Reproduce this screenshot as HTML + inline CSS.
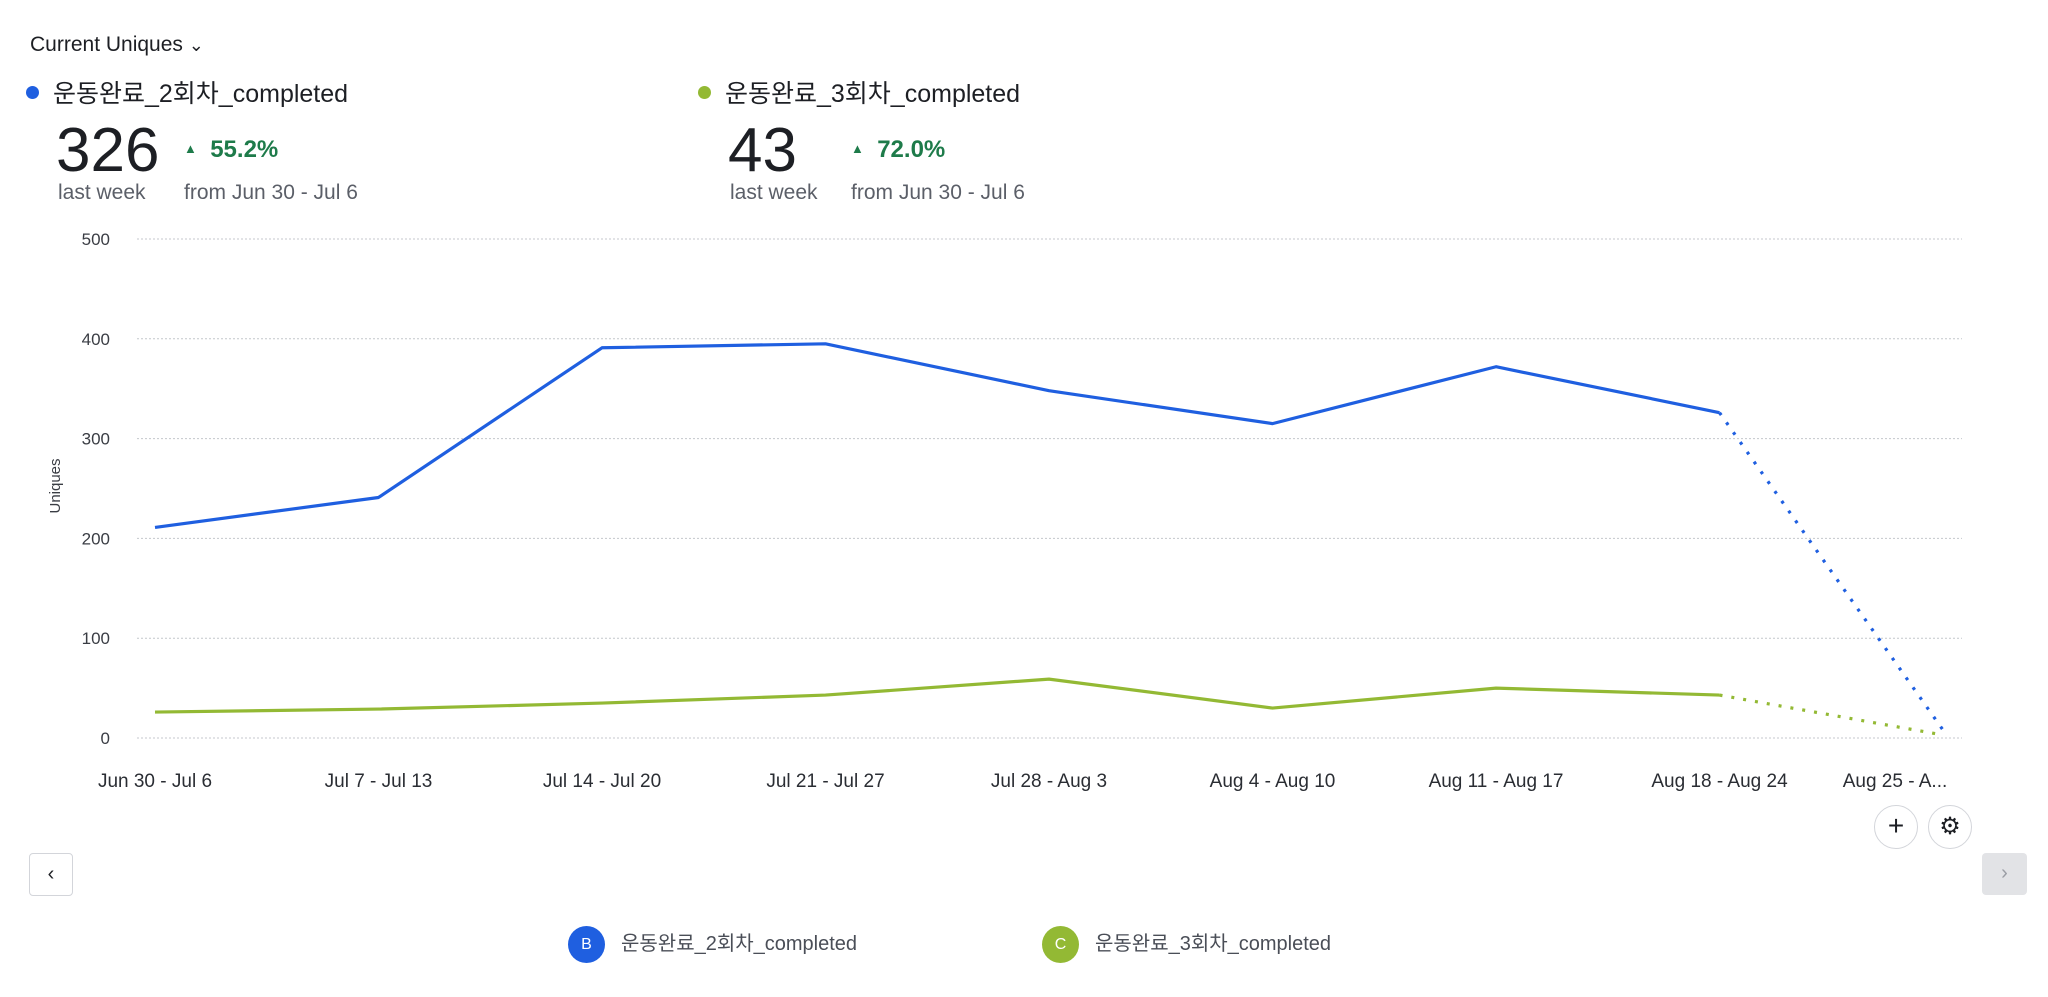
<!DOCTYPE html>
<html><head><meta charset="utf-8">
<style>
body{margin:0;width:2048px;height:997px;background:#fff;font-family:"Liberation Sans","Noto Sans CJK KR",sans-serif;color:#1d1f24;overflow:hidden;position:relative}
.a{position:absolute;white-space:nowrap}
</style></head><body>
<div class="a" style="left:30px;top:33px;font-size:21px">Current Uniques <span style="font-size:18px">&#8964;</span></div>

<div class="a" style="left:26px;top:74px;font-size:25px"><span style="display:inline-block;width:13px;height:13px;border-radius:50%;background:#1f5fe0;margin-right:14px;vertical-align:3px"></span>운동완료_2회차_completed</div>
<div class="a" style="left:56px;top:118px;font-size:62px;line-height:66px">326</div>
<div class="a" style="left:184px;top:136px;font-size:24px;font-weight:bold;color:#1e7b4a"><span style="font-size:13px;vertical-align:4px">&#9650;</span>&nbsp; 55.2%</div>
<div class="a" style="left:58px;top:181px;font-size:21px;color:#5b5f68">last week</div>
<div class="a" style="left:184px;top:181px;font-size:21px;color:#5b5f68">from Jun 30 - Jul 6</div>

<div class="a" style="left:698px;top:74px;font-size:25px"><span style="display:inline-block;width:13px;height:13px;border-radius:50%;background:#93b934;margin-right:14px;vertical-align:3px"></span>운동완료_3회차_completed</div>
<div class="a" style="left:728px;top:118px;font-size:62px;line-height:66px">43</div>
<div class="a" style="left:851px;top:136px;font-size:24px;font-weight:bold;color:#1e7b4a"><span style="font-size:13px;vertical-align:4px">&#9650;</span>&nbsp; 72.0%</div>
<div class="a" style="left:730px;top:181px;font-size:21px;color:#5b5f68">last week</div>
<div class="a" style="left:851px;top:181px;font-size:21px;color:#5b5f68">from Jun 30 - Jul 6</div>

<svg id="chart" class="a" style="left:0;top:0" width="2048" height="997"></svg>

<div class="a" style="left:1874px;top:805px;width:42px;height:42px;border:1px solid #d3d5da;border-radius:50%;text-align:center;line-height:40px;font-size:28px">+</div>
<div class="a" style="left:1928px;top:805px;width:42px;height:42px;border:1px solid #d3d5da;border-radius:50%;text-align:center;line-height:42px;font-size:24px">&#9881;</div>
<div class="a" style="left:29px;top:853px;width:42px;height:41px;border:1px solid #d3d5da;border-radius:4px;text-align:center;line-height:40px;font-size:20px">&#8249;</div>
<div class="a" style="left:1982px;top:853px;width:45px;height:42px;background:#e2e3e6;border-radius:4px;text-align:center;line-height:40px;font-size:20px;color:#9a9da4">&#8250;</div>

<div class="a" style="left:568px;top:926px;font-size:20px;color:#4a4e57;line-height:37px"><span style="display:inline-block;width:37px;height:37px;border-radius:50%;background:#1f5fe0;color:#fff;text-align:center;font-size:16px;vertical-align:top;margin-right:16px">B</span>운동완료_2회차_completed</div>
<div class="a" style="left:1042px;top:926px;font-size:20px;color:#4a4e57;line-height:37px"><span style="display:inline-block;width:37px;height:37px;border-radius:50%;background:#93b934;color:#fff;text-align:center;font-size:16px;vertical-align:top;margin-right:16px">C</span>운동완료_3회차_completed</div>

<script>
const categories=["Jun 30 - Jul 6","Jul 7 - Jul 13","Jul 14 - Jul 20","Jul 21 - Jul 27","Jul 28 - Aug 3","Aug 4 - Aug 10","Aug 11 - Aug 17","Aug 18 - Aug 24","Aug 25 - A..."];
const seriesB=[211,241,391,395,348,315,372,326,8];
const seriesC=[26,29,35,43,59,30,50,43,3];
const yTicks=[0,100,200,300,400,500];
const NS="http://www.w3.org/2000/svg";
const svg=document.getElementById('chart');
const x=i=>155+i*223.5;
const y=v=>738-v*(499/500);
function mk(t,a){const e=document.createElementNS(NS,t);for(const k in a)e.setAttribute(k,a[k]);svg.appendChild(e);return e;}
yTicks.forEach(v=>{
  const g=mk('line',{x1:137,x2:1962,y1:y(v),y2:y(v),stroke:'#c4c7cc','stroke-dasharray':'2 2','stroke-width':1});
  
  
  const t=mk('text',{x:110,y:y(v)+6,'text-anchor':'end','font-size':17,fill:'#3a3d44'});
  t.textContent=v;
  
  
});
const yt=mk('text',{x:0,y:0,transform:'translate(60,486) rotate(-90)','text-anchor':'middle','font-size':15,fill:'#3a3d44'});
yt.textContent='Uniques';


categories.forEach((c,i)=>{
  const t=mk('text',{x:i==8?1895:x(i),y:787,'text-anchor':'middle','font-size':19,fill:'#2a2d33'});
  t.textContent=c;
  
  
});
function draw(data,color,name){
  const n=data.length;
  const solid=data.slice(0,n-1).map((v,i)=>x(i)+','+y(v)).join(' ');
  const p=mk('polyline',{points:solid,fill:'none',stroke:color,'stroke-width':3.2,'stroke-linejoin':'round'});
  
  
  const d=mk('line',{x1:x(n-2),y1:y(data[n-2]),x2:x(n-1),y2:y(data[n-1]),stroke:color,'stroke-width':3.2,'stroke-dasharray':'3 9'});
  
  
}
draw(seriesC,'#93b934','series-c');
draw(seriesB,'#1f5fe0','series-b');
</script>
</body></html>
